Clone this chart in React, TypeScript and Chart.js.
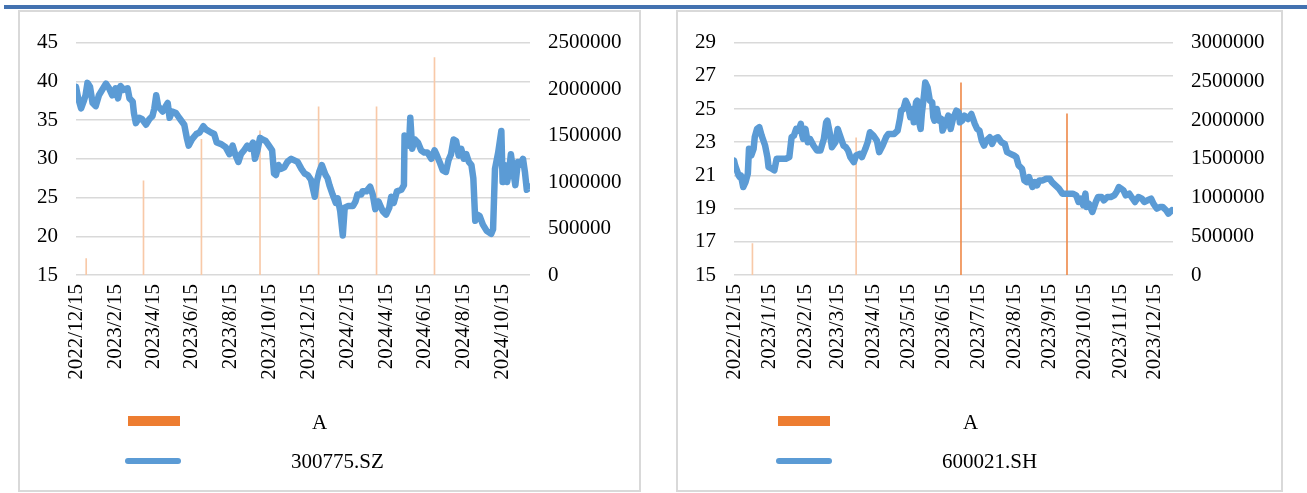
import React, { useEffect, useRef } from 'react';
import { Chart, registerables } from 'chart.js';

Chart.register(...registerables);

// ---------- Left chart: 300775.SZ ----------
const leftName = '300775.SZ';
const leftTickLabels = [
  '2022/12/15', '2023/2/15', '2023/4/15', '2023/6/15', '2023/8/15', '2023/10/15',
  '2023/12/15', '2024/2/15', '2024/4/15', '2024/6/15', '2024/8/15', '2024/10/15',
];
const leftDates = [
  '2022/12/15', '2022/12/18', '2022/12/23', '2022/12/27', '2022/12/30', '2023/1/2', '2023/1/6', '2023/1/10',
  '2023/1/15', '2023/1/20', '2023/1/31', '2023/2/5', '2023/2/10', '2023/2/15', '2023/2/19', '2023/2/23',
  '2023/2/28', '2023/3/6', '2023/3/9', '2023/3/14', '2023/3/16', '2023/3/19', '2023/3/24', '2023/3/29',
  '2023/4/4', '2023/4/9', '2023/4/14', '2023/4/17', '2023/4/20', '2023/4/23', '2023/4/30', '2023/5/5',
  '2023/5/8', '2023/5/11', '2023/5/15', '2023/5/21', '2023/5/26', '2023/6/3', '2023/6/7', '2023/6/10',
  '2023/6/15', '2023/6/22', '2023/6/27', '2023/7/3', '2023/7/7', '2023/7/15', '2023/7/20', '2023/7/24',
  '2023/7/31', '2023/8/7', '2023/8/13', '2023/8/18', '2023/8/22', '2023/8/27', '2023/8/31', '2023/9/5',
  '2023/9/10', '2023/9/14', '2023/9/19', '2023/9/22', '2023/9/26', '2023/9/30', '2023/10/4', '2023/10/9',
  '2023/10/14', '2023/10/19', '2023/10/22', '2023/10/25', '2023/10/29', '2023/11/2', '2023/11/7', '2023/11/12',
  '2023/11/18', '2023/11/23', '2023/11/28', '2023/12/4', '2023/12/9', '2023/12/14', '2023/12/19', '2023/12/25',
  '2023/12/28', '2024/1/1', '2024/1/5', '2024/1/11', '2024/1/14', '2024/1/17', '2024/1/22', '2024/1/27',
  '2024/1/30', '2024/2/3', '2024/2/7', '2024/2/10', '2024/2/15', '2024/2/23', '2024/2/27', '2024/3/1',
  '2024/3/7', '2024/3/9', '2024/3/15', '2024/3/21', '2024/3/25', '2024/3/29', '2024/4/3', '2024/4/10',
  '2024/4/15', '2024/4/20', '2024/4/23', '2024/4/27', '2024/5/2', '2024/5/9', '2024/5/13', '2024/5/14',
  '2024/5/18', '2024/5/21', '2024/5/23', '2024/5/26', '2024/5/30', '2024/6/4', '2024/6/9', '2024/6/14',
  '2024/6/19', '2024/6/25', '2024/6/30', '2024/7/3', '2024/7/8', '2024/7/13', '2024/7/18', '2024/7/22',
  '2024/7/26', '2024/7/30', '2024/8/3', '2024/8/7', '2024/8/11', '2024/8/15', '2024/8/19', '2024/8/23',
  '2024/8/27', '2024/8/30', '2024/9/2', '2024/9/5', '2024/9/9', '2024/9/14', '2024/9/20', '2024/9/27',
  '2024/9/30', '2024/10/3', '2024/10/8', '2024/10/13', '2024/10/15', '2024/10/18', '2024/10/22', '2024/10/25',
  '2024/10/28', '2024/10/31', '2024/11/4', '2024/11/8', '2024/11/11', '2024/11/16', '2024/11/19', '2024/11/22',
  '2024/11/27',
];
const leftValues = [
  39.3, 38.0, 36.5, 37.4, 38.2, 39.8, 39.3, 37.2,
  36.8, 38.2, 39.7, 39.1, 38.2, 39.1, 37.8, 39.4,
  38.9, 39.1, 37.8, 37.4, 35.9, 34.6, 35.3, 35.1,
  34.4, 35.1, 35.5, 36.5, 38.2, 36.8, 36.1, 36.8,
  37.2, 35.3, 36.1, 35.9, 35.3, 34.4, 32.7, 31.7,
  32.5, 33.2, 33.4, 34.2, 33.8, 33.4, 33.2, 32.1,
  31.9, 31.5, 30.6, 31.7, 30.6, 29.6, 30.6, 31.1,
  31.7, 31.3, 32.1, 30.0, 31.1, 32.7, 32.5, 32.3,
  31.7, 31.1, 28.1, 27.9, 29.2, 28.7, 28.9, 29.6,
  30.0, 29.8, 29.6, 28.7, 28.1, 27.9, 27.3, 25.1,
  27.0, 28.3, 29.2, 27.9, 27.5, 26.6, 25.4, 24.3,
  24.9, 23.2, 20.1, 23.7, 23.9, 23.9, 24.5, 25.4,
  25.4, 25.8, 25.8, 26.4, 25.4, 23.5, 24.5, 23.2,
  22.8, 23.7, 25.1, 24.3, 25.8, 26.0, 26.6, 33.0,
  32.7, 31.7, 35.3, 31.3, 32.5, 32.1, 31.1, 30.8,
  30.8, 30.0, 31.1, 30.6, 29.6, 28.5, 28.3, 29.8,
  30.6, 32.5, 32.3, 30.4, 31.3, 30.0, 30.6, 29.6,
  29.2, 27.5, 22.0, 22.8, 22.6, 21.5, 20.7, 20.3,
  20.9, 28.7, 30.8, 33.6, 27.0, 29.2, 27.0, 28.3,
  30.6, 28.7, 26.6, 29.6, 29.2, 30.0, 28.3, 26.0,
  26.4,
];
const leftBarDates = ['2022/12/31', '2023/3/31', '2023/6/30', '2023/9/30', '2023/12/31', '2024/3/31', '2024/6/30'];
const leftBarValues = [176000, 1013000, 1460000, 1550000, 1810000, 1810000, 2340000];

// ---------- Right chart: 600021.SH ----------
const rightName = '600021.SH';
const rightTickLabels = [
  '2022/12/15', '2023/1/15', '2023/2/15', '2023/3/15', '2023/4/15', '2023/5/15', '2023/6/15',
  '2023/7/15', '2023/8/15', '2023/9/15', '2023/10/15', '2023/11/15', '2023/12/15',
];
const rightDates = [
  '2022/12/15', '2022/12/16', '2022/12/19', '2022/12/20', '2022/12/21', '2022/12/23', '2022/12/25', '2022/12/27',
  '2022/12/28', '2022/12/30', '2023/1/1', '2023/1/2', '2023/1/4', '2023/1/6', '2023/1/8', '2023/1/11',
  '2023/1/13', '2023/1/14', '2023/1/17', '2023/1/19', '2023/1/21', '2023/1/24', '2023/1/29', '2023/2/1',
  '2023/2/3', '2023/2/5', '2023/2/7', '2023/2/9', '2023/2/11', '2023/2/12', '2023/2/13', '2023/2/15',
  '2023/2/17', '2023/2/19', '2023/2/22', '2023/2/25', '2023/2/28', '2023/3/3', '2023/3/5', '2023/3/6',
  '2023/3/8', '2023/3/10', '2023/3/13', '2023/3/15', '2023/3/17', '2023/3/20', '2023/3/22', '2023/3/24',
  '2023/3/26', '2023/3/29', '2023/3/31', '2023/4/3', '2023/4/5', '2023/4/8', '2023/4/10', '2023/4/12',
  '2023/4/15', '2023/4/18', '2023/4/20', '2023/4/23', '2023/4/26', '2023/4/28', '2023/5/3', '2023/5/6',
  '2023/5/8', '2023/5/9', '2023/5/11', '2023/5/13', '2023/5/15', '2023/5/17', '2023/5/19', '2023/5/20',
  '2023/5/22', '2023/5/23', '2023/5/24', '2023/5/26', '2023/5/27', '2023/5/29', '2023/5/30', '2023/6/1',
  '2023/6/3', '2023/6/5', '2023/6/6', '2023/6/7', '2023/6/9', '2023/6/11', '2023/6/13', '2023/6/14',
  '2023/6/17', '2023/6/19', '2023/6/21', '2023/6/23', '2023/6/26', '2023/6/28', '2023/6/29', '2023/7/1',
  '2023/7/3', '2023/7/6', '2023/7/9', '2023/7/12', '2023/7/14', '2023/7/16', '2023/7/18', '2023/7/20',
  '2023/7/22', '2023/7/25', '2023/7/27', '2023/7/29', '2023/8/1', '2023/8/4', '2023/8/7', '2023/8/9',
  '2023/8/12', '2023/8/15', '2023/8/17', '2023/8/19', '2023/8/22', '2023/8/24', '2023/8/26', '2023/8/28',
  '2023/8/31', '2023/9/2', '2023/9/4', '2023/9/6', '2023/9/9', '2023/9/12', '2023/9/15', '2023/9/17',
  '2023/9/20', '2023/9/23', '2023/9/26', '2023/9/28', '2023/10/2', '2023/10/5', '2023/10/8', '2023/10/10',
  '2023/10/12', '2023/10/14', '2023/10/16', '2023/10/17', '2023/10/19', '2023/10/22', '2023/10/25', '2023/10/27',
  '2023/10/30', '2023/11/1', '2023/11/4', '2023/11/7', '2023/11/10', '2023/11/12', '2023/11/14', '2023/11/16',
  '2023/11/18', '2023/11/20', '2023/11/23', '2023/11/25', '2023/11/28', '2023/12/1', '2023/12/4', '2023/12/6',
  '2023/12/9', '2023/12/12', '2023/12/14', '2023/12/17', '2023/12/20', '2023/12/22', '2023/12/25', '2023/12/27',
  '2023/12/30',
];
const rightValues = [
  21.9, 21.6, 21.0, 20.9, 21.0, 20.3, 20.6, 21.1,
  22.6, 22.2, 22.6, 23.3, 23.8, 23.9, 23.4, 22.8,
  22.1, 21.5, 21.4, 21.3, 22.0, 22.0, 22.0, 22.1,
  23.3, 23.4, 23.8, 23.7, 24.1, 23.5, 23.2, 23.8,
  23.0, 23.2, 22.8, 22.5, 22.5, 23.2, 24.2, 24.3,
  23.6, 22.7, 23.0, 23.8, 23.4, 22.8, 22.7, 22.5,
  22.1, 21.8, 22.2, 22.3, 22.1, 22.6, 23.0, 23.6,
  23.4, 23.1, 22.4, 22.8, 23.3, 23.5, 23.5, 23.7,
  24.4, 24.9, 25.0, 25.5, 25.2, 24.5, 25.0, 24.2,
  25.4, 25.5, 24.4, 23.8, 24.7, 25.9, 26.6, 26.3,
  25.5, 25.4, 24.5, 24.3, 25.0, 24.3, 24.4, 23.7,
  24.2, 24.6, 23.8, 24.4, 24.9, 24.8, 24.2, 24.3,
  24.6, 24.4, 24.7, 24.1, 23.8, 23.7, 23.1, 22.8,
  23.1, 23.3, 22.9, 23.2, 23.3, 23.0, 22.9, 22.4,
  22.3, 22.2, 22.1, 21.6, 21.4, 20.7, 20.6, 20.9,
  20.3, 20.6, 20.4, 20.7, 20.7, 20.8, 20.8, 20.6,
  20.4, 20.2, 19.9, 19.9, 19.9, 19.9, 19.8, 19.4,
  19.6, 19.2, 19.9, 19.1, 19.3, 18.8, 19.4, 19.7,
  19.7, 19.5, 19.7, 19.7, 19.8, 20.0, 20.3, 20.2,
  20.1, 19.8, 19.9, 19.7, 19.4, 19.7, 19.6, 19.4,
  19.5, 19.6, 19.3, 19.0, 19.1, 19.1, 18.9, 18.7,
  18.9,
];
const rightBarDates = ['2022/12/31', '2023/3/31', '2023/6/30', '2023/9/30'];
const rightBarValues = [405000, 1770000, 2480000, 2080000];

// ---------- helpers ----------
const FONT_FAMILY = "'Liberation Serif', 'Times New Roman', serif";
const TEXT_COLOR = '#000000';
const LINE_COLOR = '#5B9BD5';
const BAR_LIGHT = '#F8C9A8';
const BAR_DARK = '#EF8C4E';

function dayIndex(s: string, base: string): number {
  const p = s.split('/').map(Number);
  const b = base.split('/').map(Number);
  return Math.round((Date.UTC(p[0], p[1] - 1, p[2]) - Date.UTC(b[0], b[1] - 1, b[2])) / 86400000);
}

type PanelProps = {
  name: string;
  tickLabels: string[];
  dates: string[];
  values: number[];
  barDates: string[];
  barValues: number[];
  barColors: string[];
  yMin: number;
  yMax: number;
  yStep: number;
  y1Max: number;
  xMax: number;
  canvasLeft: number;
  canvasWidth: number;
  plotLeft: number;
  plotRight: number;
};

function Panel(props: PanelProps) {
  const ref = useRef<HTMLCanvasElement>(null);
  const canvasTop = 12;
  const canvasHeight = 478;
  const plotTop = 38;
  const plotBottom = 275;

  useEffect(() => {
    const base = props.dates[0];
    const font = { family: FONT_FAMILY, size: 21 };
    const chart = new Chart(ref.current as HTMLCanvasElement, {
      type: 'line',
      data: {
        datasets: [
          {
            type: 'bar',
            label: 'A',
            data: props.barDates.map((d, i) => ({ x: dayIndex(d, base), y: props.barValues[i] })),
            yAxisID: 'y1',
            backgroundColor: props.barColors,
            borderWidth: 0,
            barThickness: 1,
            order: 2,
          } as any,
          {
            type: 'line',
            label: props.name,
            data: props.dates.map((d, i) => ({ x: dayIndex(d, base), y: props.values[i] })),
            yAxisID: 'y',
            borderColor: LINE_COLOR,
            borderWidth: 6.5,
            pointRadius: 0,
            borderJoinStyle: 'round',
            borderCapStyle: 'round',
            tension: 0,
            fill: false,
            order: 1,
          } as any,
        ],
      },
      options: {
        responsive: false,
        animation: false,
        events: [],
        layout: { padding: { top: plotTop - canvasTop, left: 0, right: 0, bottom: 0 } },
        plugins: { legend: { display: false }, tooltip: { enabled: false } },
        scales: {
          x: {
            type: 'linear',
            min: 0,
            max: props.xMax,
            offset: false,
            grid: { display: false, drawTicks: false },
            border: { display: false },
            afterBuildTicks: (s: any) => {
              s.ticks = props.tickLabels.map((l) => ({ value: dayIndex(l, base) }));
            },
            afterFit: (s: any) => {
              s.height = canvasTop + canvasHeight - plotBottom;
            },
            ticks: {
              autoSkip: false,
              minRotation: 90,
              maxRotation: 90,
              padding: 9,
              font,
              color: TEXT_COLOR,
              callback: (_v: any, i: number) => props.tickLabels[i],
            },
          },
          y: {
            type: 'linear',
            position: 'left',
            min: props.yMin,
            max: props.yMax,
            ticks: { stepSize: props.yStep, padding: 18, font, color: TEXT_COLOR },
            grid: { color: '#D9D9D9', lineWidth: 1.5, drawTicks: false },
            border: { display: false },
            afterFit: (s: any) => {
              s.width = props.plotLeft - props.canvasLeft;
            },
          },
          y1: {
            type: 'linear',
            position: 'right',
            min: 0,
            max: props.y1Max,
            ticks: {
              stepSize: 500000,
              padding: 18,
              font,
              color: TEXT_COLOR,
              callback: (v: any) => String(v),
            },
            grid: { display: false, drawTicks: false },
            border: { display: false },
            afterFit: (s: any) => {
              s.width = props.canvasLeft + props.canvasWidth - props.plotRight;
            },
          },
        },
      } as any,
    });
    return () => chart.destroy();
  }, []);

  return (
    <canvas
      ref={ref}
      width={props.canvasWidth}
      height={canvasHeight}
      style={{
        position: 'absolute',
        left: props.canvasLeft,
        top: canvasTop,
        width: props.canvasWidth,
        height: canvasHeight,
      }}
    />
  );
}

const legendText: React.CSSProperties = {
  position: 'absolute',
  fontFamily: FONT_FAMILY,
  fontSize: 21,
  lineHeight: '21px',
  height: 21,
  color: TEXT_COLOR,
  whiteSpace: 'nowrap',
};

function Legend(props: { rectLeft: number; lineLeft: number; aLeft: number; nameLeft: number; name: string }) {
  return (
    <>
      <div
        style={{
          position: 'absolute',
          left: props.rectLeft,
          top: 416,
          width: 52,
          height: 10,
          background: '#ED7D31',
        }}
      />
      <div style={{ ...legendText, left: props.aLeft, top: 412 }}>A</div>
      <div
        style={{
          position: 'absolute',
          left: props.lineLeft,
          top: 458,
          width: 56,
          height: 6,
          borderRadius: 3,
          background: LINE_COLOR,
        }}
      />
      <div style={{ ...legendText, left: props.nameLeft, top: 451 }}>{props.name}</div>
    </>
  );
}

export default function App() {
  return (
    <div style={{ position: 'absolute', left: 0, top: 0, width: 1307, height: 493, background: '#FFFFFF', overflow: 'hidden' }}>
      <div style={{ position: 'absolute', left: 4, top: 5, width: 1303, height: 4, background: '#4372B0' }} />
      <div
        style={{
          position: 'absolute',
          left: 18,
          top: 10,
          width: 623,
          height: 482,
          border: '2px solid #D9D9D9',
          boxSizing: 'border-box',
        }}
      />
      <div
        style={{
          position: 'absolute',
          left: 676,
          top: 10,
          width: 607,
          height: 482,
          border: '2px solid #D9D9D9',
          boxSizing: 'border-box',
        }}
      />
      <Panel
        name={leftName}
        tickLabels={leftTickLabels}
        dates={leftDates}
        values={leftValues}
        barDates={leftBarDates}
        barValues={leftBarValues}
        barColors={leftBarDates.map(() => BAR_LIGHT)}
        yMin={15}
        yMax={45}
        yStep={5}
        y1Max={2500000}
        xMax={713}
        canvasLeft={20}
        canvasWidth={619}
        plotLeft={76}
        plotRight={530}
      />
      <Panel
        name={rightName}
        tickLabels={rightTickLabels}
        dates={rightDates}
        values={rightValues}
        barDates={rightBarDates}
        barValues={rightBarValues}
        barColors={[BAR_LIGHT, BAR_LIGHT, BAR_DARK, BAR_DARK]}
        yMin={15}
        yMax={29}
        yStep={2}
        y1Max={3000000}
        xMax={381}
        canvasLeft={678}
        canvasWidth={603}
        plotLeft={734}
        plotRight={1173}
      />
      <Legend rectLeft={128} lineLeft={125} aLeft={312} nameLeft={291} name={leftName} />
      <Legend rectLeft={778} lineLeft={776} aLeft={963} nameLeft={942} name={rightName} />
    </div>
  );
}
